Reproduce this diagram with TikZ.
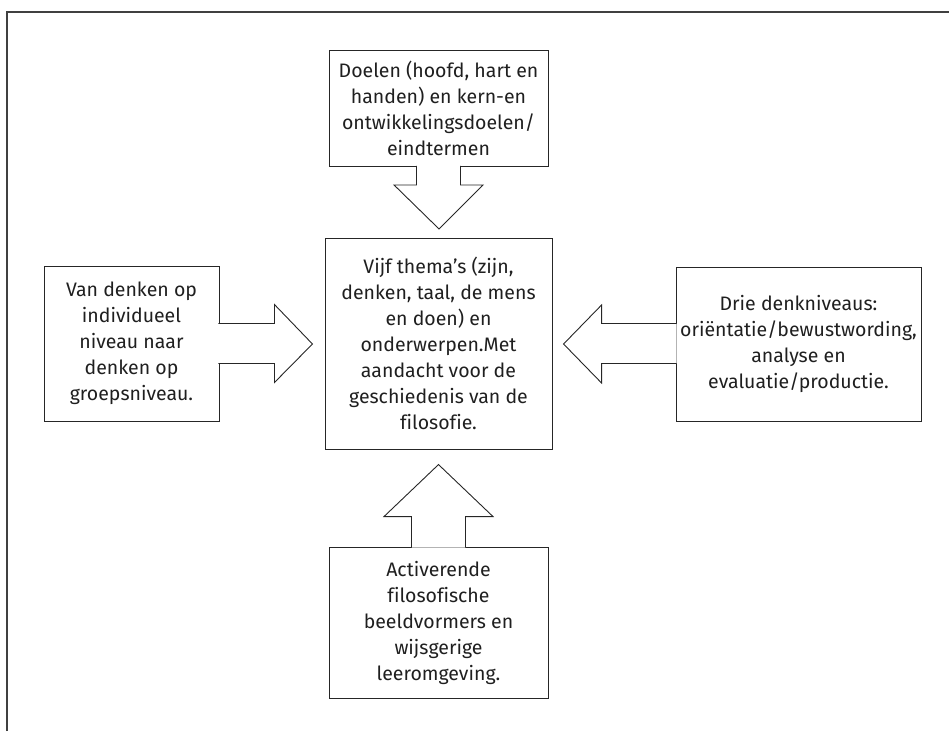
\documentclass[tikz,border=0pt]{standalone}
\usepackage{fontspec}
\setmainfont{Fira Sans}[Ligatures=NoCommon]
\usetikzlibrary{calc}
\begin{document}
\begin{tikzpicture}[x=1pt,y=-1pt,
  box/.style={draw=black!85, line width=0.9pt, inner sep=0pt, align=center,
    text=black!88, font=\fontsize{19.5}{26}\selectfont},
  blockarrow/.style={draw=black!85, line width=0.9pt, fill=white, line join=miter}]
\useasboundingbox (0,0) rectangle (949,731);
\draw[line width=1.5pt, black!75] (7,731) -- (7,12) -- (949,12);

\node[box, minimum width=219pt, minimum height=116pt] (top) at (438.5,108.5)
  {Doelen (hoofd, hart en\\handen) en kern-en\\ontwikkelingsdoelen/\\eindtermen};
\node[box, minimum width=227pt, minimum height=211pt] (center) at (438.5,343.5)
  {Vijf thema’s (zijn,\\denken, taal, de mens\\en doen) en\\onderwerpen.Met\\aandacht voor de\\geschiedenis van de\\filosofie.};
\node[box, minimum width=219pt, minimum height=151pt] (bottom) at (438.5,622.5)
  {Activerende\\filosofische\\beeldvormers en\\wijsgerige\\leeromgeving.};
\node[box, minimum width=175pt, minimum height=155pt] (left) at (131.5,343.5)
  {Van denken op\\individueel\\niveau naar\\denken op\\groepsniveau.};
\node[box, minimum width=245pt, minimum height=154pt] (right) at (798.5,344)
  {Drie denkniveaus:\\oriëntatie/bewustwording,\\analyse en\\evaluatie/productie.};

% top arrow
\draw[blockarrow] ($(top.south)+(-22,-1)$) -- ($(top.south)+(-22,18)$)
  -- ($(top.south)+(-44.5,18)$) -- ($(top.south)+(0.5,62)$)
  -- ($(top.south)+(44.5,18)$) -- ($(top.south)+(22,18)$) -- ($(top.south)+(22,-1)$);
% bottom arrow
\draw[blockarrow] ($(bottom.north)+(-27,1)$) -- ($(bottom.north)+(-27,-30)$)
  -- ($(bottom.north)+(-54.5,-30)$) -- ($(bottom.north)+(0,-82)$)
  -- ($(bottom.north)+(54.5,-30)$) -- ($(bottom.north)+(27,-30)$) -- ($(bottom.north)+(27,1)$);
% left arrow
\draw[blockarrow] ($(left.east)+(-1,-20)$) -- ($(left.east)+(55,-20)$)
  -- ($(left.east)+(55,-39)$) -- ($(left.east)+(93,0.5)$)
  -- ($(left.east)+(55,39)$) -- ($(left.east)+(55,20)$) -- ($(left.east)+(-1,20)$);
% right arrow
\draw[blockarrow] ($(right.west)+(1,-20.5)$) -- ($(right.west)+(-74,-20.5)$)
  -- ($(right.west)+(-74,-39)$) -- ($(right.west)+(-112,0)$)
  -- ($(right.west)+(-74,39)$) -- ($(right.west)+(-74,19.5)$) -- ($(right.west)+(1,19.5)$);
\end{tikzpicture}
\end{document}
